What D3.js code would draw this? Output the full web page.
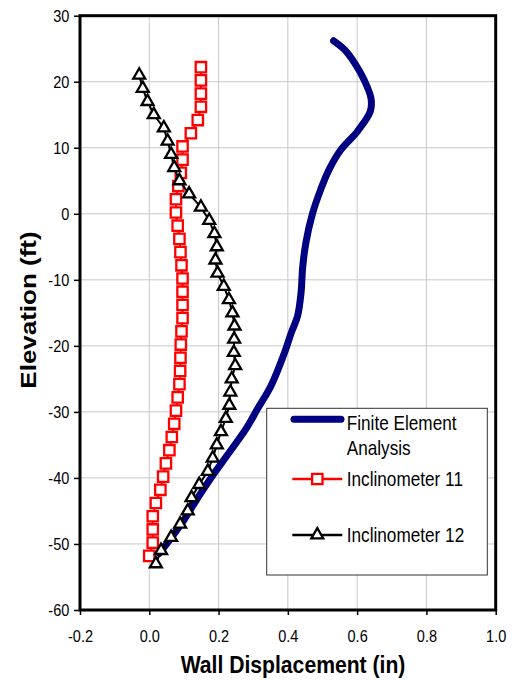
<!DOCTYPE html>
<html>
<head>
<meta charset="utf-8">
<script src="https://cdn.jsdelivr.net/npm/d3@7"></script>
<style>
  html, body { margin: 0; padding: 0; background: #fff; }
  svg { display: block; font-family: "Liberation Sans", Arial, sans-serif; }
</style>
</head>
<body>
<div id="chart"></div>
<script>
// Finite element curve (displacement in, elevation ft)
const feDisp = [0.532, 0.563, 0.592, 0.620, 0.640, 0.638, 0.601, 0.553, 0.519, 0.495, 0.471, 0.452, 0.443, 0.438, 0.428, 0.410, 0.390, 0.351, 0.313, 0.280, 0.226, 0.178, 0.140, 0.101, 0.060, 0.029];
const feElev = [26.2, 24.9, 22.9, 20.3, 17.5, 15.5, 12.5, 9.7, 6.7, 3.7, 0.0, -4.4, -8.0, -12.0, -15.5, -18.0, -21.1, -26.1, -29.5, -32.5, -36.5, -40.0, -43.0, -46.3, -49.3, -51.4];

// Inclinometer 11
const inc11Elev = [22.2, 20.2, 18.2, 16.2, 14.2, 12.2, 10.2, 8.2, 6.2, 4.2, 2.2, 0.2, -1.8, -3.8, -5.8, -7.8, -9.8, -11.8, -13.8, -15.8, -17.8, -19.8, -21.8, -23.8, -25.8, -27.8, -29.8, -31.8, -33.8, -35.8, -37.8, -39.8, -41.8, -43.8, -45.8, -47.8, -49.8, -51.8];
const inc11Disp = [0.149, 0.149, 0.149, 0.149, 0.140, 0.120, 0.096, 0.096, 0.091, 0.084, 0.077, 0.077, 0.082, 0.087, 0.090, 0.093, 0.096, 0.096, 0.096, 0.096, 0.093, 0.091, 0.090, 0.089, 0.087, 0.082, 0.077, 0.072, 0.065, 0.058, 0.048, 0.040, 0.032, 0.019, 0.010, 0.010, 0.010, 0.000];

// Inclinometer 12
const inc12Elev = [21, 19, 17, 15, 13, 11, 9, 7, 5, 3, 1, -1, -3, -5, -7, -9, -11, -13, -15, -17, -19, -21, -23, -25, -27, -29, -31, -33, -35, -37, -39, -41, -43, -45, -47, -49, -51, -53];
const inc12Disp = [-0.029, -0.019, -0.005, 0.013, 0.042, 0.053, 0.063, 0.072, 0.087, 0.115, 0.149, 0.173, 0.188, 0.195, 0.191, 0.197, 0.215, 0.230, 0.240, 0.246, 0.245, 0.244, 0.248, 0.238, 0.234, 0.231, 0.221, 0.207, 0.195, 0.183, 0.169, 0.144, 0.122, 0.111, 0.089, 0.063, 0.034, 0.019];

const xTicks = [-0.2, 0.0, 0.2, 0.4, 0.6, 0.8, 1.0];
const yTicks = [30, 20, 10, 0, -10, -20, -30, -40, -50, -60];

const width = 514, height = 680;
const plot = { left: 80, top: 15.7, right: 495.7, bottom: 610 };
const squeeze = 0.88; // the picture's text is narrow

const svg = d3.select("#chart").append("svg")
    .attr("width", width)
    .attr("height", height);

const x = d3.scaleLinear().domain([-0.2, 1.0]).range([plot.left, plot.right]);
const y = d3.scaleLinear().domain([-60, 30]).range([plot.bottom, plot.top]);

// gridlines
svg.append("g").selectAll("line.vgrid")
    .data(xTicks)
    .join("line")
    .attr("x1", d => x(d)).attr("x2", d => x(d))
    .attr("y1", plot.top).attr("y2", plot.bottom)
    .attr("stroke", "#c8c8c8").attr("stroke-width", 1);

svg.append("g").selectAll("line.hgrid")
    .data(yTicks)
    .join("line")
    .attr("y1", d => y(d)).attr("y2", d => y(d))
    .attr("x1", plot.left).attr("x2", plot.right)
    .attr("stroke", "#c8c8c8").attr("stroke-width", 1);

// axes
const xAxis = svg.append("g")
    .attr("transform", `translate(0,${plot.bottom})`)
    .call(d3.axisBottom(x).tickValues(xTicks).tickFormat(d => d.toFixed(1)).tickSizeOuter(0).tickSize(5));
xAxis.select(".domain").remove();
xAxis.selectAll("line").attr("stroke", "#000").attr("stroke-width", 1.5);
xAxis.selectAll("text")
    .attr("y", 31.7).attr("dy", null)
    .attr("transform", `scale(${squeeze},1)`)
    .style("font-size", "16.5px").attr("fill", "#000");

const yAxis = svg.append("g")
    .attr("transform", `translate(${plot.left},0)`)
    .call(d3.axisLeft(y).tickValues(yTicks).tickFormat(d => String(d)).tickSizeOuter(0).tickSize(6));
yAxis.select(".domain").remove();
yAxis.selectAll("line").attr("stroke", "#000").attr("stroke-width", 1.5);
yAxis.selectAll("text")
    .attr("x", -10.7 / squeeze).attr("dy", "0.36em")
    .attr("transform", `scale(${squeeze},1)`)
    .style("font-size", "16.5px").attr("fill", "#000");

// frame
svg.append("rect")
    .attr("x", plot.left).attr("y", plot.top)
    .attr("width", plot.right - plot.left).attr("height", plot.bottom - plot.top)
    .attr("fill", "none").attr("stroke", "#000").attr("stroke-width", 3);

// finite element curve
const fe = feDisp.map((d, i) => ({ x: d, y: feElev[i] }));
svg.append("path")
    .datum(fe)
    .attr("fill", "none")
    .attr("stroke", "#000080")
    .attr("stroke-width", 7)
    .attr("stroke-linecap", "round")
    .attr("stroke-linejoin", "round")
    .attr("d", d3.line().x(d => x(d.x)).y(d => y(d.y)).curve(d3.curveCatmullRom.alpha(0.5)));

// inclinometer series
function drawSeries(disp, elev, color, symbol, size) {
    const pts = disp.map((d, i) => ({ x: d, y: elev[i] }));
    svg.append("path")
        .datum(pts)
        .attr("fill", "none")
        .attr("stroke", color)
        .attr("stroke-width", 2)
        .attr("d", d3.line().x(d => x(d.x)).y(d => y(d.y)));
    svg.append("g").selectAll("path")
        .data(pts)
        .join("path")
        .attr("transform", d => `translate(${x(d.x)},${y(d.y)})`)
        .attr("d", d3.symbol().type(symbol).size(size))
        .attr("fill", "#fff")
        .attr("stroke", color)
        .attr("stroke-width", 2.3);
}
drawSeries(inc11Disp, inc11Elev, "#ff0000", d3.symbolSquare, 108);
drawSeries(inc12Disp, inc12Elev, "#000", d3.symbolTriangle, 62);

// axis titles
svg.append("text")
    .attr("transform", `translate(293,673.3) scale(0.9,1)`)
    .attr("text-anchor", "middle")
    .style("font-size", "23.5px").style("font-weight", "bold")
    .text("Wall Displacement (in)");

svg.append("text")
    .attr("transform", `translate(35.5,310) scale(${squeeze},1) rotate(-90)`)
    .attr("text-anchor", "middle")
    .style("font-size", "26px").style("font-weight", "bold")
    .text("Elevation (ft)");

// legend
const legend = svg.append("g");
legend.append("rect")
    .attr("x", 266.7).attr("y", 408.3)
    .attr("width", 220.6).attr("height", 166.7)
    .attr("fill", "#fff").attr("stroke", "#333").attr("stroke-width", 1);

const legendItems = [
    { lines: ["Finite Element", "Analysis"], y: 419.3, base: 430, color: "#000080", width: 7, symbol: null },
    { lines: ["Inclinometer 11"], y: 479, base: 486, color: "#ff0000", width: 2.5, symbol: d3.symbolSquare, size: 108 },
    { lines: ["Inclinometer 12"], y: 535, base: 541.7, color: "#000", width: 2.5, symbol: d3.symbolTriangle, size: 62 }
];

legendItems.forEach(item => {
    legend.append("line")
        .attr("x1", item.symbol ? 292.3 : 294).attr("x2", item.symbol ? 342.3 : 341)
        .attr("y1", item.y).attr("y2", item.y)
        .attr("stroke", item.color)
        .attr("stroke-width", item.width)
        .attr("stroke-linecap", item.symbol ? "butt" : "round");
    if (item.symbol) {
        legend.append("path")
            .attr("transform", `translate(317.3,${item.y})`)
            .attr("d", d3.symbol().type(item.symbol).size(item.size))
            .attr("fill", "#fff").attr("stroke", item.color).attr("stroke-width", 2.3);
    }
    item.lines.forEach((t, i) => {
        legend.append("text")
            .attr("transform", `translate(346.7,${item.base + i * 25}) scale(0.86,1)`)
            .style("font-size", "20px")
            .attr("fill", "#000")
            .text(t);
    });
});
</script>
</body>
</html>
